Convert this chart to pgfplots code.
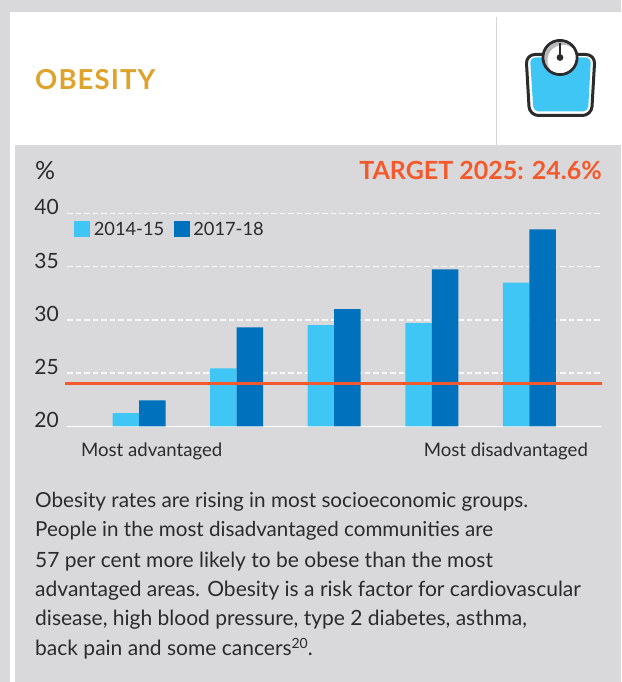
\documentclass[border=0pt]{standalone}
\usepackage{pgfplots}
\usepackage{fontspec}
\pgfplotsset{compat=1.18}
\setmainfont{Lato}
\definecolor{panel}{HTML}{D9D9DB}
\definecolor{lblue}{HTML}{40C6F5}
\definecolor{dblue}{HTML}{0071BC}
\definecolor{target}{HTML}{F4592B}
\definecolor{gold}{HTML}{DFA32B}
\definecolor{ink}{HTML}{2B2B2D}
\definecolor{rulec}{HTML}{D4D4D6}
\newcommand{\fs}[1]{\fontsize{#1}{#1}\selectfont}
\begin{document}
\begin{tikzpicture}[x=1pt,y=1pt]
\path[use as bounding box] (0,0) rectangle (621,682);
\fill[panel] (0,0) rectangle (621,682);
\fill[white] (10,0) rectangle (621,670);
\fill[panel] (15,0) rectangle (621,537);
\draw[rulec,line width=1pt] (496,537) -- (496,665);
% title
\node[anchor=base west,inner sep=0,text=gold] at (35,592) {\fs{27.5}\bfseries\addfontfeatures{LetterSpace=4}OBESITY};
\node[anchor=base west,inner sep=0,text=ink] at (35,502) {\fs{25}\%};
\node[anchor=base east,inner sep=0,text=target] at (602,502) {\fs{25}\bfseries TARGET 2025: 24.6\%};
% icon
\begin{scope}[shift={(0,682)},yscale=-1]
\draw[line width=3pt,ink,rounded corners=9pt,fill=white] (526,54.5) -- (595,54.5) -- (591.5,115.5) -- (529.5,115.5) -- cycle;
\fill[lblue,rounded corners=5pt] (530,57.5) -- (591,57.5) -- (588,111.5) -- (533.5,111.5) -- cycle;
\draw[line width=3pt,ink,fill=white] (560,57.5) circle (17);
\begin{scope}
\clip (560,57.5) circle (15.5);
\fill[gray!55] (560,57.5) circle (15.5);
\fill[white] (563,60.5) circle (15.5);
\end{scope}
\draw[line width=1.6pt,ink] (560,43) -- (560,57);
\fill[ink] (560,57.5) circle (3.4);
\end{scope}
% axis
\begin{axis}[
  at={(69,240)},anchor=south west,
  width=535pt,height=213pt,scale only axis,
  xmin=-0.738,xmax=4.749,ymin=20,ymax=40,
  ybar,
  axis x line*=bottom,axis y line*=left,
  x axis line style={white,line width=1.6pt,-},
  y axis line style={draw=none},
  major tick length=0pt,
  ytick={20,25,30,35,40},
  ymajorgrids,
  grid style={white,opacity=.85,line width=1.4pt,dash pattern=on 5.5pt off 3pt},
  xtick={0.128,3.76},
  xticklabels={Most advantaged,Most disadvantaged},
  x tick label style={font=\fs{18.6},text=ink,anchor=base,yshift=-30pt},
  y tick label style={font=\fs{21},text=ink,anchor=east,yshift=6pt,xshift=-5pt},
  /pgf/number format/assume math mode=true,
  clip=false,
  legend style={draw=none,fill=none,at={(axis description cs:0.0131,0.9624)},anchor=north west,inner sep=0pt,outer sep=0pt,legend columns=2,font=\fs{18.3},text=ink,
    /tikz/every even column/.style={column sep=6pt},
    nodes={inner xsep=3.5pt,inner ysep=0pt}},
  legend image code/.code={\fill[#1] (0pt,-7.8pt) rectangle (16pt,7.8pt);},
]
\addplot[ybar,bar width=26.5pt,bar shift=-13.25pt,fill=lblue,draw=none] coordinates {(0,21.25)(1,25.45)(2,29.5)(3,29.7)(4,33.5)};
\addlegendentry{2014-15}
\addplot[ybar,bar width=26.5pt,bar shift=13.25pt,fill=dblue,draw=none] coordinates {(0,22.44)(1,29.3)(2,31.0)(3,34.75)(4,38.5)};
\addlegendentry{2017-18}
\addplot[sharp plot,target,line width=3pt,forget plot] coordinates {(-0.76,24.0)(4.749,24.0)};
\end{axis}
% text
\begin{scope}[every node/.style={anchor=base west,inner sep=0,text=ink}]
\node at (35,174) {\fs{20.7}Obesity rates are rising in most socioeconomic groups.};
\node at (35,145) {\fs{20.6}People in the most disadvantaged communities are};
\node at (35,114) {\fs{21}57 per cent more likely to be obese than the most};
\node at (35,85) {\fs{21}advantaged areas. Obesity is a risk factor for cardiovascular};
\node at (35,56) {\fs{21}disease, high blood pressure, type 2 diabetes, asthma,};
\node at (35,26) {\fs{21}back pain and some cancers\raisebox{7pt}{\fs{14}20}.};
\end{scope}
\end{tikzpicture}
\end{document}
